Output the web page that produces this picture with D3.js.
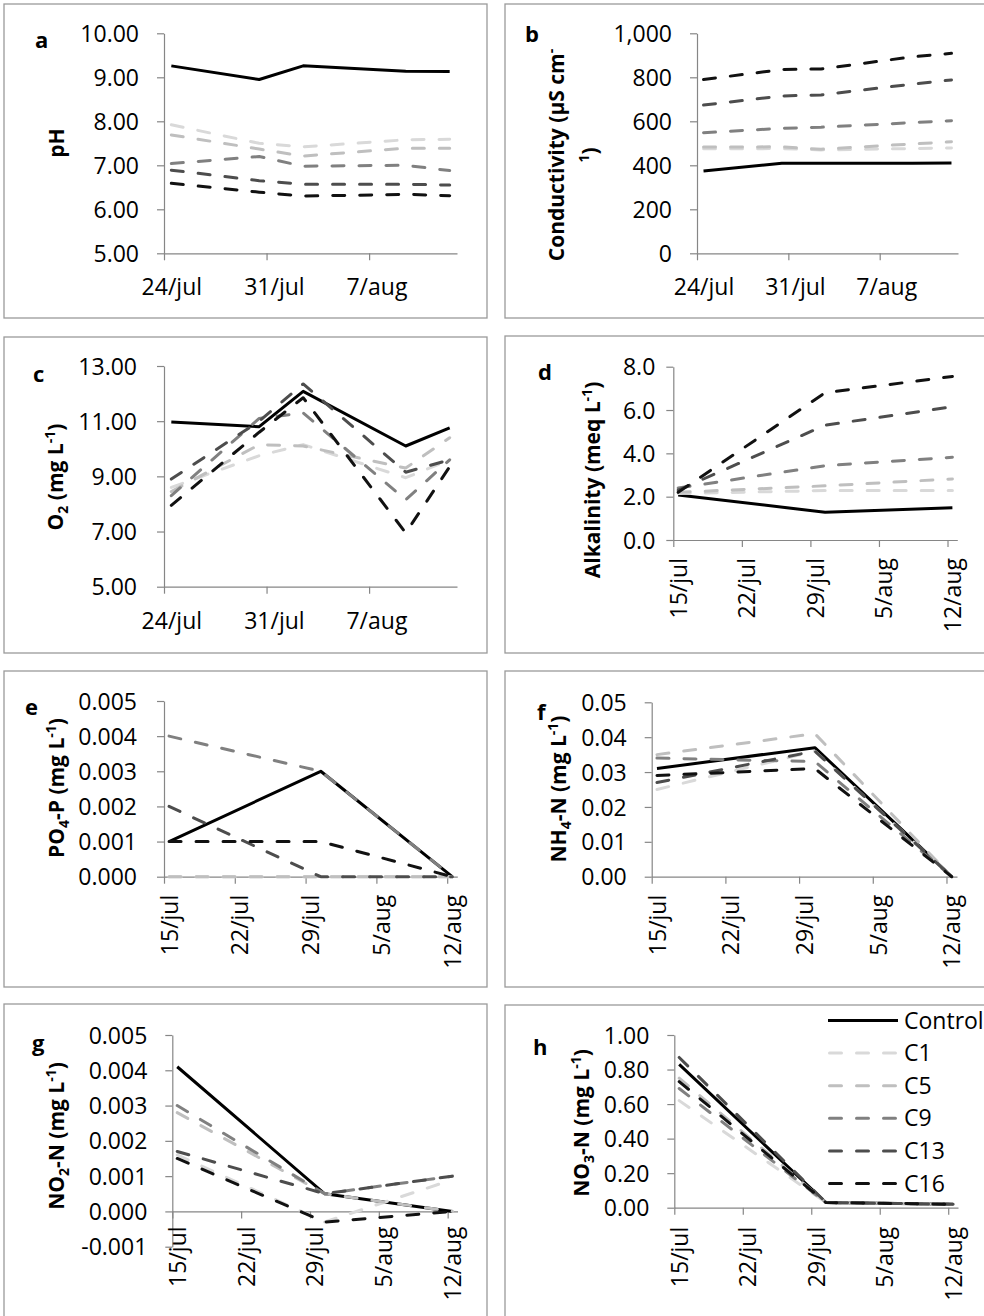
<!DOCTYPE html>
<html>
<head>
<meta charset="utf-8">
<script src="https://cdn.jsdelivr.net/npm/d3@7"></script>
<style>
  body { margin: 0; background: #fff; }
  svg { display: block; font-family: "Open Sans", sans-serif; }
</style>
</head>
<body>
<script>
// treatments and their line colours (Excel greyscale)
var series = ["Control", "C1", "C5", "C9", "C13", "C16"];
var seriesColor = ["#000000", "#d9d9d9", "#bfbfbf", "#808080", "#4d4d4d", "#111111"];

// sampling dates
var datesAC = ["2013-07-24", "2013-07-30", "2013-08-02", "2013-08-09", "2013-08-12"];
var datesDH = ["2013-07-15", "2013-07-30", "2013-08-12"];
var ticksAC = ["2013-07-24", "2013-07-31", "2013-08-07"];
var ticksDH = ["2013-07-15", "2013-07-22", "2013-07-29", "2013-08-05", "2013-08-12"];

// values, one row per treatment (same order as series)
var pH = [
  [9.26, 8.95, 9.26, 9.14, 9.13],
  [7.92, 7.50, 7.42, 7.58, 7.59],
  [7.69, 7.37, 7.21, 7.39, 7.39],
  [7.04, 7.20, 6.98, 7.00, 6.88],
  [6.89, 6.65, 6.57, 6.57, 6.55],
  [6.59, 6.39, 6.30, 6.34, 6.31]
];
var conductivity = [
  [374, 409, 409, 409, 410],
  [475, 476, 470, 476, 479],
  [483, 484, 473, 497, 507],
  [548, 568, 573, 594, 603],
  [674, 715, 720, 769, 788],
  [790, 835, 838, 893, 909]
];
var oxygen = [
  [10.97, 10.80, 12.08, 10.10, 10.76],
  [8.60, 9.75, 10.15, 8.95, 9.60],
  [8.45, 10.15, 10.10, 9.30, 10.40],
  [8.30, 11.10, 11.30, 8.15, 9.60],
  [8.90, 11.00, 12.35, 9.15, 9.60],
  [7.95, 10.60, 11.85, 6.95, 9.35]
];
var alkalinity = [
  [2.08, 1.28, 1.49],
  [2.15, 2.28, 2.28],
  [2.20, 2.50, 2.82],
  [2.40, 3.43, 3.82],
  [2.30, 5.30, 6.15],
  [2.20, 6.80, 7.55]
];
var phosphate = [
  [0.001, 0.003, 0],
  [0, 0, 0],
  [0, 0, 0],
  [0.004, 0.003, 0],
  [0.002, 0, 0],
  [0.001, 0.001, 0]
];
var ammonium = [
  [0.031, 0.037, 0],
  [0.025, 0.036, 0],
  [0.035, 0.041, 0],
  [0.034, 0.033, 0],
  [0.027, 0.036, 0],
  [0.029, 0.031, 0]
];
var nitrite = [
  [0.0041, 0.0005, 0],
  [0.0016, -0.0003, 0.0009],
  [0.0028, 0.0005, 0],
  [0.0030, 0.0005, 0.0010],
  [0.0017, 0.0005, 0.0010],
  [0.0015, -0.0003, 0]
];
var nitrate = [
  [0.83, 0.03, 0.02],
  [0.62, 0.03, 0.02],
  [0.75, 0.03, 0.02],
  [0.69, 0.03, 0.02],
  [0.87, 0.03, 0.02],
  [0.73, 0.03, 0.02]
];

// y tick values
var pHTicks = [5, 6, 7, 8, 9, 10];
var condTicks = [0, 200, 400, 600, 800, 1000];
var oxyTicks = [5, 7, 9, 11, 13];
var alkTicks = [0, 2, 4, 6, 8];
var po4Ticks = [0, 0.001, 0.002, 0.003, 0.004, 0.005];
var nh4Ticks = [0, 0.01, 0.02, 0.03, 0.04, 0.05];
var no2Ticks = [-0.001, 0, 0.001, 0.002, 0.003, 0.004, 0.005];
var no3Ticks = [0, 0.2, 0.4, 0.6, 0.8, 1.0];

var parse = d3.utcParse("%Y-%m-%d");
var dayFmt = d3.utcFormat("%-d/%b");

// panel layout
var panels = [
  { id: "a", frame: [4, 4, 483, 314], xr: [164, 457], yr: [253.3, 33.3], xs: "2013-07-24", xe: "2013-08-13",
    dates: datesAC, ticks: ticksAC, values: pH, yTicks: pHTicks, fmt: ".2f", pad: 18, rot: false,
    letter: [35, 48], title: { cy: 143, lines: [{ x: 57, segs: [["pH"]] }] } },
  { id: "b", frame: [505, 4, 500, 314], xr: [697, 958], yr: [253.3, 33.3], xs: "2013-07-24", xe: "2013-08-13",
    dates: datesAC, ticks: ticksAC, values: conductivity, yTicks: condTicks, fmt: ",", pad: 18, rot: false,
    letter: [525, 42], title: { cy: 155, lines: [
      { x: 557, segs: [["Conductivity (µS cm"], ["-", "sup"]] },
      { x: 590, segs: [["1", "sup"], [")"]] }] } },
  { id: "c", frame: [4, 337, 483, 316], xr: [164, 457], yr: [586.7, 366], xs: "2013-07-24", xe: "2013-08-13",
    dates: datesAC, ticks: ticksAC, values: oxygen, yTicks: oxyTicks, fmt: ".2f", pad: 20, rot: false,
    letter: [33, 382], title: { cy: 477, lines: [{ x: 56, segs: [["O"], ["2", "sub"], [" (mg L"], ["-1", "sup"], [")"]] }] } },
  { id: "d", frame: [505, 336, 500, 317], xr: [673.3, 957.3], yr: [540, 366.7], xs: "2013-07-15", xe: "2013-08-13",
    dates: datesDH, ticks: ticksDH, values: alkalinity, yTicks: alkTicks, fmt: ".1f", pad: 11, rot: true, lgap: 18,
    letter: [538, 380], title: { cy: 480, lines: [{ x: 593, segs: [["Alkalinity (meq L"], ["-1", "sup"], [")"]] }] } },
  { id: "e", frame: [4, 671, 483, 316], xr: [164, 457.3], yr: [876.7, 701], xs: "2013-07-15", xe: "2013-08-13",
    dates: datesDH, ticks: ticksDH, values: phosphate, yTicks: po4Ticks, fmt: ".3f", pad: 20, rot: true, lgap: 18,
    letter: [25, 715], title: { cy: 788, lines: [{ x: 57, segs: [["PO"], ["4", "sub"], ["-P (mg L"], ["-1", "sup"], [")"]] }] } },
  { id: "f", frame: [505, 671, 500, 316], xr: [651.7, 957], yr: [876.7, 702.3], xs: "2013-07-15", xe: "2013-08-13",
    dates: datesDH, ticks: ticksDH, values: ammonium, yTicks: nh4Ticks, fmt: ".2f", pad: 18, rot: true, lgap: 18,
    letter: [537, 720], title: { cy: 789, lines: [{ x: 559, segs: [["NH"], ["4", "sub"], ["-N (mg L"], ["-1", "sup"], [")"]] }] } },
  { id: "g", frame: [4, 1004, 483, 330], xr: [172.3, 457.5], yr: [1246.7, 1035], xs: "2013-07-15", xe: "2013-08-13",
    dates: datesDH, ticks: ticksDH, values: nitrite, yTicks: no2Ticks, fmt: ".3f", pad: 18, rot: true, lgap: 15, xAt: 0,
    letter: [32, 1051], title: { cy: 1136, lines: [{ x: 57, segs: [["NO"], ["2", "sub"], ["-N (mg L"], ["-1", "sup"], [")"]] }] } },
  { id: "h", frame: [505, 1005, 500, 330], xr: [674.3, 958], yr: [1207.7, 1035], xs: "2013-07-15", xe: "2013-08-13",
    dates: datesDH, ticks: ticksDH, values: nitrate, yTicks: no3Ticks, fmt: ".2f", pad: 18, rot: true, lgap: 19,
    letter: [533, 1055], title: { cy: 1123, lines: [{ x: 582, segs: [["NO"], ["3", "sub"], ["-N (mg L"], ["-1", "sup"], [")"]] }] } }
];

var svg = d3.select("body").append("svg")
  .attr("width", 984)
  .attr("height", 1316);

function styleAxis(g) {
  g.attr("font-family", "Open Sans").attr("font-size", 23);
  g.selectAll("path, line").attr("stroke", "#868686").attr("stroke-width", 1.2);
  g.selectAll("text").attr("fill", "#000");
}

panels.forEach(function(p) {
  var g = svg.append("g");

  g.append("rect")
    .attr("x", p.frame[0]).attr("y", p.frame[1])
    .attr("width", p.frame[2]).attr("height", p.frame[3])
    .attr("fill", "none").attr("stroke", "#9a9a9a").attr("stroke-width", 1.3);

  var x = d3.scaleUtc().domain([parse(p.xs), parse(p.xe)]).range(p.xr);
  var y = d3.scaleLinear().domain(d3.extent(p.yTicks)).range(p.yr);
  var half = (x(d3.utcDay.offset(parse(p.xs), 1)) - x(parse(p.xs))) / 2;
  var yFmt = d3.format(p.fmt);

  // y axis (plain hyphen for negatives, as in Excel)
  g.append("g")
    .attr("transform", "translate(" + p.xr[0] + ",0)")
    .call(d3.axisLeft(y).tickValues(p.yTicks)
      .tickFormat(function(d) { return yFmt(d).replace("\u2212", "-"); })
      .tickSize(7).tickSizeOuter(0).tickPadding(p.pad))
    .call(styleAxis)
    .selectAll("text").attr("dy", "0.35em");

  // x axis
  var xa = g.append("g")
    .attr("transform", "translate(0," + y(p.xAt != null ? p.xAt : p.yTicks[0]) + ")")
    .call(d3.axisBottom(x).tickValues(p.ticks.map(parse))
      .tickFormat(function(d) { return dayFmt(d).toLowerCase(); })
      .tickSize(7).tickSizeOuter(0))
    .call(styleAxis);

  if (p.rot) {
    xa.selectAll("text")
      .attr("x", 0).attr("y", 0).attr("dy", "0.35em")
      .attr("text-anchor", "end")
      .attr("transform", "translate(" + half + "," + p.lgap + ") rotate(-90)");
  } else {
    xa.selectAll("text")
      .attr("x", half).attr("y", 42).attr("dy", 0);
  }

  // lines
  var line = d3.line()
    .x(function(d) { return x(d.date) + half; })
    .y(function(d) { return y(d.v); });

  p.values.forEach(function(vals, i) {
    var pts = vals.map(function(v, j) { return { date: parse(p.dates[j]), v: v }; });
    g.append("path")
      .datum(pts)
      .attr("d", line)
      .attr("fill", "none")
      .attr("stroke", seriesColor[i])
      .attr("stroke-width", 3)
      .attr("stroke-linejoin", "round")
      .attr("stroke-linecap", i === 0 ? "butt" : "round")
      .attr("stroke-dasharray", i === 0 ? null : "12,15");
  });

  // panel letter
  g.append("text")
    .attr("x", p.letter[0]).attr("y", p.letter[1])
    .attr("font-size", 22).attr("font-weight", "bold")
    .text(p.id);

  // axis title
  p.title.lines.forEach(function(l) {
    var t = g.append("text")
      .attr("transform", "translate(" + l.x + "," + p.title.cy + ") rotate(-90)")
      .attr("text-anchor", "middle")
      .attr("dy", "0.35em")
      .attr("font-size", 21)
      .attr("font-weight", "bold");
    l.segs.forEach(function(s) {
      var ts = t.append("tspan").text(s[0]);
      if (s[1] === "sup") ts.attr("font-size", 14).attr("baseline-shift", 8);
      if (s[1] === "sub") ts.attr("font-size", 14).attr("baseline-shift", -5);
    });
  });
});

// legend (inside panel h)
var legend = svg.append("g")
  .selectAll("g")
  .data(series)
  .enter()
  .append("g")
    .attr("transform", function(d, i) { return "translate(828," + (1020.5 + i * 32.6) + ")"; });

legend.append("line")
  .attr("x1", 0).attr("x2", 70)
  .attr("stroke", function(d, i) { return seriesColor[i]; })
  .attr("stroke-width", 3)
  .attr("stroke-linecap", function(d, i) { return i === 0 ? "butt" : "round"; })
  .attr("stroke-dasharray", function(d, i) { return i === 0 ? null : "12,15"; })
  .attr("transform", function(d, i) { return i === 0 ? null : "translate(1.5,0)"; });

legend.append("text")
  .attr("x", 76)
  .attr("dy", "0.35em")
  .attr("font-size", 23)
  .text(function(d) { return d; });
</script>
</body>
</html>
